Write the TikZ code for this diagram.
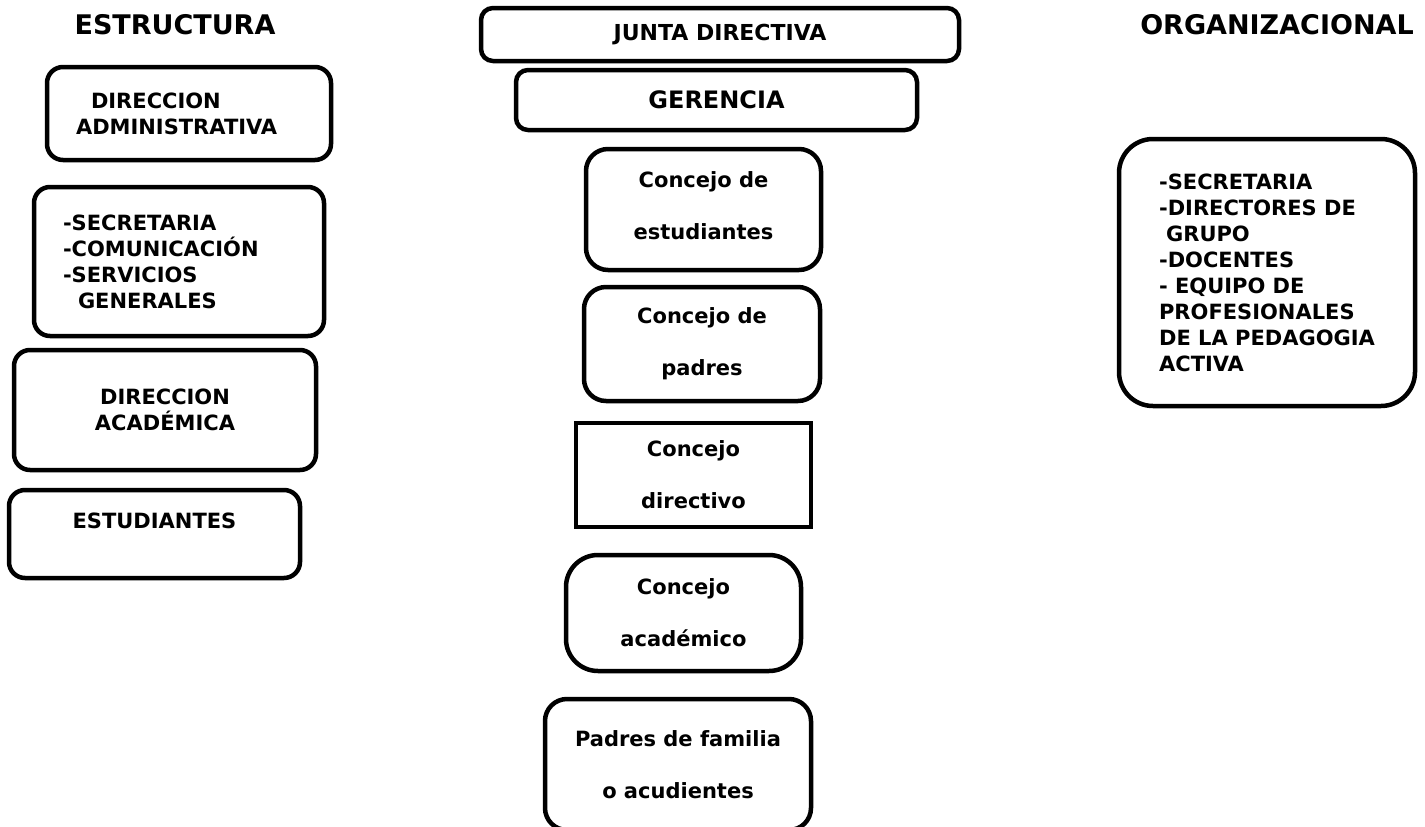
\documentclass[tikz,border=0pt]{standalone}
\usepackage{fontspec}
\setmainfont{DejaVu Sans}
\usetikzlibrary{positioning}
\tikzstyle{box}=[draw, line width=4.5pt, rounded corners=16pt, align=center, inner sep=0pt, font=\bfseries\fontsize{21}{26}\selectfont]
\tikzstyle{wide}=[box, font=\bfseries\fontsize{21}{52}\selectfont]
\tikzstyle{title}=[font=\bfseries\fontsize{27}{32}\selectfont]

\begin{document}
\begin{tikzpicture}[x=1pt,y=-1pt]
        \useasboundingbox (0,0) rectangle (1425,827);
        \clip (0,0) rectangle (1425,827);
        \node [title] (est) at (175,25) {ESTRUCTURA};
        \node [title] (org) at (1277,25) {ORGANIZACIONAL};
        % columna izquierda
        \node [box, minimum width=284pt, minimum height=93pt, align=left, text width=226pt, inner xsep=29pt] (dadm) at (189,113.5) {\hspace*{15pt}DIRECCION\\ADMINISTRATIVA};
        \node [box, minimum width=290pt, minimum height=149pt, align=left, text width=232pt, inner xsep=29pt] (sec) at (179,261.5) {-SECRETARIA\\-COMUNICACIÓN\\-SERVICIOS\\\hspace*{15pt}GENERALES};
        \node [box, minimum width=302pt, minimum height=120pt] (dacad) at (165,410) {DIRECCION\\ACADÉMICA};
        \node [box, minimum width=291pt, minimum height=88pt] (estud) at (154.5,534) {ESTUDIANTES\\~};
        % columna central
        \node [box, rounded corners=12pt, minimum width=478pt, minimum height=53pt, font=\bfseries\fontsize{22}{26}\selectfont] (junta) at (720,34.5) {JUNTA DIRECTIVA};
        \node [box, rounded corners=12pt, minimum width=401pt, minimum height=60pt, font=\bfseries\fontsize{24}{28}\selectfont] (ger) at (716.5,100) {GERENCIA};
        \node [wide, rounded corners=22pt, minimum width=235pt, minimum height=121pt, text depth=8pt] (cest) at (703.5,209.5) {Concejo de\\estudiantes};
        \node [wide, rounded corners=22pt, minimum width=236pt, minimum height=114pt] (cpad) at (702,344) {Concejo de\\padres};
        \node [wide, sharp corners, minimum width=235pt, minimum height=104pt] (cdir) at (693.5,475) {Concejo\\directivo};
        \node [wide, rounded corners=32pt, minimum width=235pt, minimum height=116pt] (cacad) at (683.5,613) {Concejo\\académico};
        \node [wide, rounded corners=22pt, minimum width=266pt, minimum height=131pt] (padres) at (678,764.5) {Padres de familia\\o acudientes};
        % columna derecha
        \node [box, rounded corners=34pt, minimum width=296pt, minimum height=267pt, align=left] (equipo) at (1267,272.5) {-SECRETARIA\\-DIRECTORES DE\\\hspace*{7pt}GRUPO\\-DOCENTES\\- EQUIPO DE\\PROFESIONALES\\DE LA PEDAGOGIA\\ACTIVA};
\end{tikzpicture}
\end{document}
